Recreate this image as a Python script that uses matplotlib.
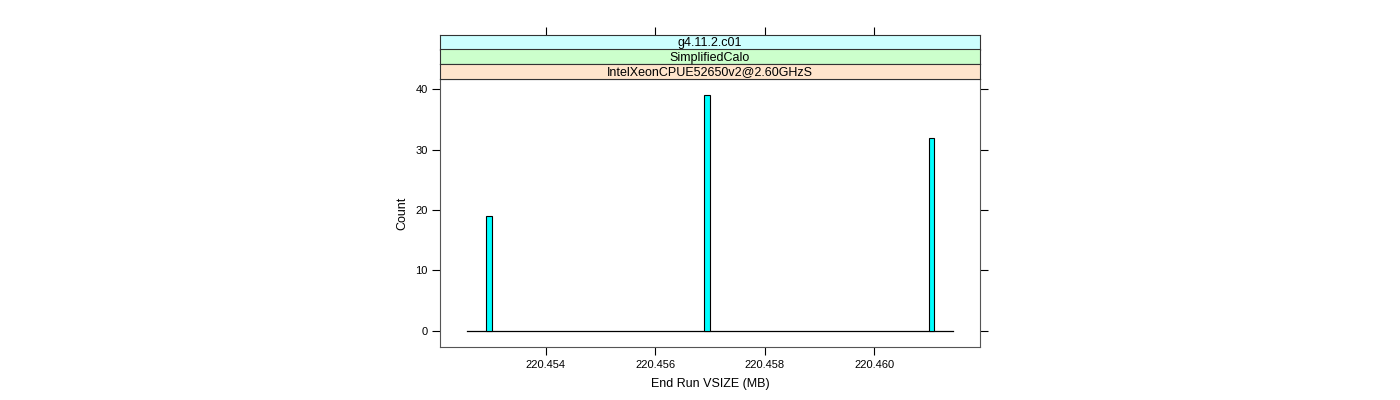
import matplotlib
matplotlib.use("Agg")
import matplotlib.pyplot as plt

# ---- data ----
bar_centers = [220.45296, 220.45695, 220.46105]
bar_counts = [19, 39, 32]
bin_width = 0.0001
bin_lo = 220.45256
bin_hi = 220.46144
x_ticks = [220.454, 220.456, 220.458, 220.460]
x_tick_labels = ["220.454", "220.456", "220.458", "220.460"]
y_ticks = [0, 10, 20, 30, 40]
strip_labels = ["g4.11.2.c01", "SimplifiedCalo", "IntelXeonCPUE52650v2@2.60GHzS"]
strip_colors = ["#CCFFFF", "#CCFFCC", "#FFE5CC"]
x_label = "End Run VSIZE (MB)"
y_label = "Count"

plt.rcParams['font.family'] = ['Liberation Sans', 'DejaVu Sans']

W, H = 1400, 400
fig = plt.figure(figsize=(W / 100, H / 100), dpi=100)

def rect(l, t, r, b):
    return [l / W, 1 - b / H, (r - l) / W, (b - t) / H]

xlim = (220.452069, 220.461932)
ylim = (-2.73, 41.73)

ax = fig.add_axes(rect(440, 79, 980, 347))
ax.bar(bar_centers, bar_counts, width=bin_width, color="#00FFFF",
       edgecolor="black", linewidth=0.8, zorder=3)
ax.plot([bin_lo, bin_hi], [0, 0], color="black", linewidth=0.9, zorder=2)
ax.set_xlim(*xlim)
ax.set_ylim(*ylim)
ax.set_xticks(x_ticks)
ax.set_xticklabels(x_tick_labels)
ax.set_yticks(y_ticks)
ax.tick_params(axis="both", direction="out", length=6, width=0.8,
               labelsize=8, color="black", pad=3)
ax.tick_params(axis="y", right=True, labelright=False)
ax.tick_params(axis="x", top=False)
for s in ax.spines.values():
    s.set_color("#555555")
    s.set_linewidth(0.8)
ax.set_xlabel(x_label, fontsize=9, labelpad=6)
ax.set_ylabel(y_label, fontsize=9, labelpad=5)

# strips (top to bottom)
edges = [35, 49.5, 64.3, 79]
for i, (lab, col) in enumerate(zip(strip_labels, strip_colors)):
    sa = fig.add_axes(rect(440, edges[i], 980, edges[i + 1]))
    sa.set_facecolor(col)
    sa.set_xlim(*xlim)
    sa.set_ylim(0, 1)
    sa.set_yticks([])
    if i == 0:
        sa.set_xticks(x_ticks)
        sa.tick_params(axis="x", top=True, bottom=False, labeltop=False,
                       labelbottom=False, direction="out", length=6,
                       width=0.8, color="black")
    else:
        sa.set_xticks([])
    for s in sa.spines.values():
        s.set_color("#333333")
        s.set_linewidth(0.8)
    sa.text(0.5, 0.45, lab, transform=sa.transAxes, ha="center", va="center",
            fontsize=9)

fig.savefig("out.png", dpi=100)
